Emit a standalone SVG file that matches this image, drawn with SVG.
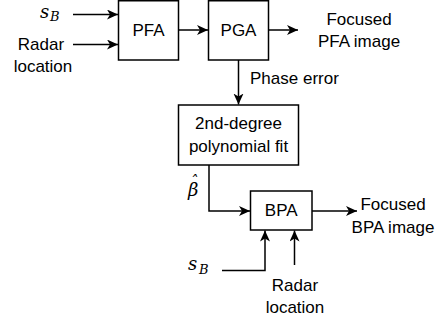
<svg xmlns="http://www.w3.org/2000/svg" width="441" height="320" viewBox="0 0 441 320">
<defs>
<style>
.box{fill:#fff;stroke:#000;stroke-width:1.5}
.ln{fill:none;stroke:#000;stroke-width:1.5;marker-end:url(#ah)}
.t{font-family:"Liberation Sans",Arial,sans-serif;font-size:17px;fill:#000;text-anchor:middle}
.m{font-family:"DejaVu Serif","Liberation Serif",serif;font-style:italic;fill:#000}
</style>
<marker id="ah" markerUnits="userSpaceOnUse" markerWidth="12" markerHeight="12" refX="11" refY="5" orient="auto">
<path d="M0,0 L11,5 L0,10 L3,5 z" fill="#000"/>
</marker>
</defs>
<rect width="441" height="320" fill="#fff"/>
<g id="connectors">
<path class="ln" d="M73,14.5 H118"/>
<path class="ln" d="M73,44.5 H118"/>
<path class="ln" d="M178.5,30 H208"/>
<path class="ln" d="M268.5,30 H298"/>
<path class="ln" d="M238.5,60 V104.5"/>
<path class="ln" d="M209,165 V211 H250"/>
<path class="ln" d="M312,211 H357"/>
<path class="ln" d="M222,270.5 H265 V230.5"/>
<path class="ln" d="M294.5,265 V230.5"/>
</g>
<g id="pfa">
<rect class="box" x="118.5" y="0.75" width="60" height="59.25"/>
<text class="t" x="148.5" y="36">PFA</text>
</g>
<g id="pga">
<rect class="box" x="208.5" y="0.75" width="60" height="59.25"/>
<text class="t" x="238.5" y="36">PGA</text>
</g>
<g id="poly">
<rect class="box" x="178.5" y="105" width="120" height="60"/>
<text class="t" x="238.5" y="129">2nd-degree</text>
<text class="t" x="238.5" y="152">polynomial fit</text>
</g>
<g id="bpa">
<rect class="box" x="250.5" y="191" width="61.5" height="39"/>
<text class="t" x="281.25" y="216">BPA</text>
</g>
<g id="labels">
<text class="m" x="40" y="18" font-size="18">s</text>
<text class="m" x="50" y="21" font-size="13">B</text>
<text class="t" x="41" y="50">Radar</text>
<text class="t" x="43" y="72">location</text>
<text class="t" x="359" y="25">Focused</text>
<text class="t" x="359" y="47">PFA image</text>
<text class="t" x="250" y="84" style="text-anchor:start">Phase error</text>
<text class="m" x="188" y="196" font-size="18">β<tspan x="190" y="186" font-size="15">ˆ</tspan></text>
<text class="t" x="393" y="210">Focused</text>
<text class="t" x="393" y="233">BPA image</text>
<text class="m" x="188" y="270" font-size="18">s</text>
<text class="m" x="199" y="274" font-size="13">B</text>
<text class="t" x="295" y="291">Radar</text>
<text class="t" x="295" y="313">location</text>
</g>
</svg>
